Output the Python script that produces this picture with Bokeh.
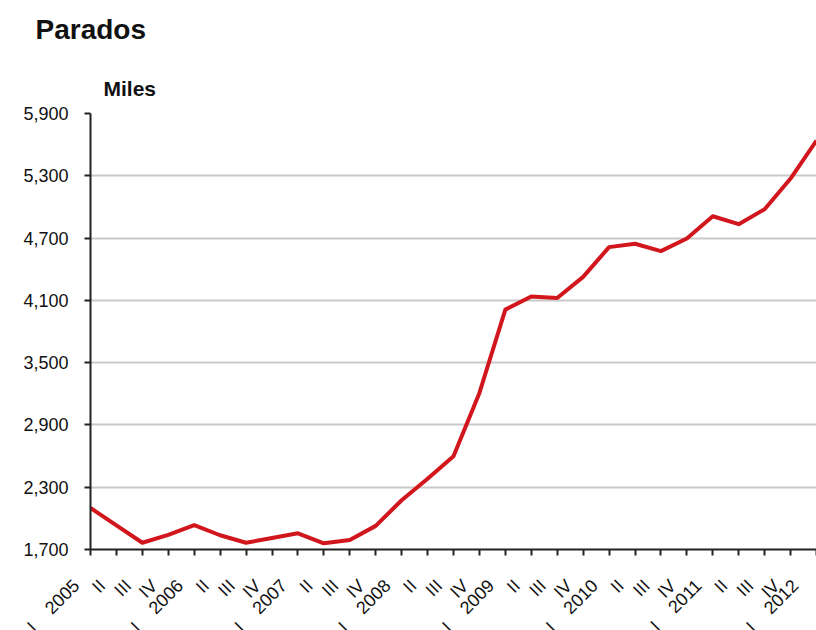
import math
from bokeh.plotting import figure
from bokeh.models import Range1d, FixedTicker, NumeralTickFormatter, Title, ColumnDataSource
from bokeh.embed import file_html
from bokeh.resources import INLINE

# Quarterly unemployed (thousands), 2005 I .. 2012 I
years = ["2005", "2006", "2007", "2008", "2009", "2010", "2011", "2012"]
quarters = ["I", "II", "III", "IV"]
parados = [
    2099.5, 1933.0, 1765.0, 1841.3,
    1935.8, 1837.2, 1765.0, 1810.6,
    1856.1, 1760.0, 1791.9, 1927.6,
    2174.2, 2381.5, 2598.8, 3207.9,
    4010.7, 4137.5, 4123.3, 4326.5,
    4612.7, 4645.5, 4574.7, 4696.6,
    4910.2, 4833.7, 4978.3, 5273.6,
    5639.5,
]
y_ticks = [1700, 2300, 2900, 3500, 4100, 4700, 5300, 5900]

NB = "\u00a0"
# category labels: first quarter carries the year; trailing padding pushes
# the rotated text away from its tick
tick_labels = []
for i in range(len(parados)):
    q = quarters[i % 4]
    if i % 4 == 0:
        lab = q + NB * 4 + years[i // 4]
    else:
        lab = q
    tick_labels.append(lab + NB * 4)

idx = list(range(len(parados)))
src = ColumnDataSource(dict(x=idx, y=parados))

FONT = "Liberation Sans"

p = figure(
    frame_width=726, frame_height=436,
    x_range=Range1d(0, len(parados) - 1),
    y_range=Range1d(y_ticks[0], y_ticks[-1]),
    output_backend="svg", toolbar_location=None,
    min_border_left=90, min_border_right=0,
    min_border_top=0, min_border_bottom=0,
)
# the heading block is a few pixels taller than the space above the frame
p.margin = (-6, 0, 0, 0)
p.outline_line_color = None
p.background_fill_color = "white"
p.border_fill_color = "white"

p.line("x", "y", source=src, line_color="#d2161d", line_width=4, line_join="round")

# y axis
p.yaxis.ticker = FixedTicker(ticks=y_ticks)
p.yaxis.formatter = NumeralTickFormatter(format="0,0")
p.yaxis.major_label_text_font = FONT
p.yaxis.major_label_text_font_size = "18px"
p.yaxis.major_label_text_color = "#111111"
p.yaxis.major_label_standoff = 16
p.yaxis.major_tick_in = 0
p.yaxis.major_tick_out = 6
p.yaxis.minor_tick_line_color = None
p.yaxis.axis_line_width = 2
p.yaxis.major_tick_line_width = 2
p.yaxis.axis_line_color = "#222222"
p.yaxis.major_tick_line_color = "#222222"

# x axis
p.xaxis.ticker = FixedTicker(ticks=idx)
p.xaxis.major_label_overrides = {i: t for i, t in enumerate(tick_labels)}
p.xaxis.major_label_orientation = math.pi / 4
p.xaxis.major_label_text_font = FONT
p.xaxis.major_label_text_font_size = "18px"
p.xaxis.major_label_text_color = "#111111"
p.xaxis.major_label_standoff = 13
p.xaxis.major_tick_in = 0
p.xaxis.major_tick_out = 6
p.xaxis.minor_tick_line_color = None
p.xaxis.axis_line_width = 2
p.xaxis.major_tick_line_width = 2
p.xaxis.axis_line_color = "#222222"
p.xaxis.major_tick_line_color = "#222222"

p.xgrid.grid_line_color = None
p.ygrid.ticker = FixedTicker(ticks=y_ticks)
p.ygrid.grid_line_color = "#c9c9c9"
p.ygrid.grid_line_width = 2

# heading and unit above the frame
p.add_layout(Title(text="Miles", align="left", offset=13, standoff=27,
                   text_font=FONT, text_font_style="bold",
                   text_font_size="21px", text_color="#111111"), "above")
p.add_layout(Title(text="Parados", align="left", offset=-55, standoff=34,
                   text_font=FONT, text_font_style="bold",
                   text_font_size="28px", text_color="#111111"), "above")

html = file_html(p, INLINE)
# the rotated tick labels run past the bottom edge; keep the page from scrolling
html = html.replace("<body>", '<body style="margin:0; overflow:hidden">', 1)
open("out.html", "w").write(html)
